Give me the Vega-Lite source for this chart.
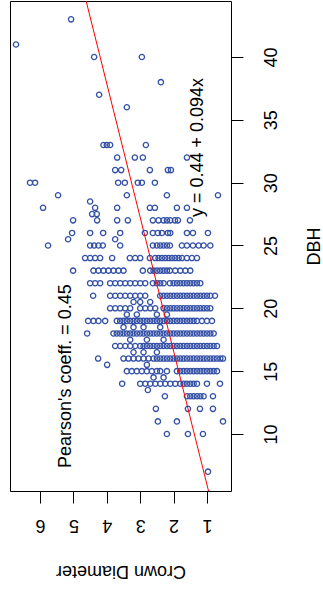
{
"$schema": "https://vega.github.io/schema/vega-lite/v6.json",
"width": 221, "height": 490,
"autosize": {"type": "none"},
"padding": {"left": 10, "top": 1, "right": 92, "bottom": 98},
"background": "white",
"config": {"view": {"stroke": "black", "strokeWidth": 1}, "font": "Liberation Sans"},
"datasets": {
"trees": [
{"dbh":43,"cd":5.07},{"dbh":41,"cd":6.72},{"dbh":40,"cd":4.38},{"dbh":40,"cd":2.95},{"dbh":38,"cd":2.38},{"dbh":37,"cd":4.23},{"dbh":36,"cd":3.4},
{"dbh":33,"cd":4.1},{"dbh":33,"cd":4.0},{"dbh":33,"cd":3.9},{"dbh":33,"cd":2.83},
{"dbh":32,"cd":3.69},{"dbh":32,"cd":3.16},{"dbh":32,"cd":2.92},{"dbh":32,"cd":1.6},
{"dbh":31,"cd":3.75},{"dbh":31,"cd":3.57},{"dbh":31,"cd":2.71},{"dbh":31,"cd":2.17},{"dbh":31,"cd":2.08},
{"dbh":30,"cd":6.3},{"dbh":30,"cd":6.15},{"dbh":30,"cd":3.66},{"dbh":30,"cd":3.46},{"dbh":30,"cd":3.07},{"dbh":30,"cd":2.95},{"dbh":30,"cd":2.56},
{"dbh":29,"cd":5.46},{"dbh":29,"cd":3.4},{"dbh":29,"cd":2.2},{"dbh":29,"cd":0.67},
{"dbh":28.5,"cd":4.5},
{"dbh":28,"cd":5.91},{"dbh":28,"cd":4.35},{"dbh":28,"cd":3.69},{"dbh":28,"cd":2.71},{"dbh":28,"cd":2.56},{"dbh":28,"cd":1.9},{"dbh":28,"cd":1.6},
{"dbh":27.5,"cd":4.44},{"dbh":27.5,"cd":4.3},
{"dbh":27,"cd":5.01},{"dbh":27,"cd":4.29},{"dbh":27,"cd":3.69},{"dbh":27,"cd":3.37},{"dbh":27,"cd":2.62},{"dbh":27,"cd":2.45},{"dbh":27,"cd":2.3},{"dbh":27,"cd":2.2},{"dbh":27,"cd":2.1},{"dbh":27,"cd":1.96},{"dbh":27,"cd":1.87},{"dbh":27,"cd":1.51},
{"dbh":26,"cd":5.04},{"dbh":26,"cd":4.5},{"dbh":26,"cd":4.11},{"dbh":26,"cd":3.6},{"dbh":26,"cd":2.86},{"dbh":26,"cd":2.62},{"dbh":26,"cd":2.47},{"dbh":26,"cd":2.35},{"dbh":26,"cd":2.17},{"dbh":26,"cd":2.1},{"dbh":26,"cd":1.6},{"dbh":26,"cd":1.42},{"dbh":26,"cd":0.97},
{"dbh":25.5,"cd":5.16},{"dbh":25.5,"cd":3.75},
{"dbh":25,"cd":5.76},{"dbh":25,"cd":4.5},{"dbh":25,"cd":4.38},{"dbh":25,"cd":4.25},{"dbh":25,"cd":4.12},{"dbh":25,"cd":3.6},{"dbh":25,"cd":2.62},{"dbh":25,"cd":2.5},{"dbh":25,"cd":2.4},{"dbh":25,"cd":2.3},{"dbh":25,"cd":2.2},{"dbh":25,"cd":2.11},{"dbh":25,"cd":1.75},{"dbh":25,"cd":1.6},{"dbh":25,"cd":1.42},{"dbh":25,"cd":1.25},{"dbh":25,"cd":1.1},{"dbh":25,"cd":0.9},
{"dbh":24,"cd":4.65},{"dbh":24,"cd":4.5},{"dbh":24,"cd":4.35},{"dbh":24,"cd":4.2},{"dbh":24,"cd":3.84},{"dbh":24,"cd":3.31},{"dbh":24,"cd":3.15},{"dbh":24,"cd":3.0},{"dbh":24,"cd":2.71},{"dbh":24,"cd":2.55},{"dbh":24,"cd":2.45},{"dbh":24,"cd":2.35},{"dbh":24,"cd":2.25},{"dbh":24,"cd":2.15},{"dbh":24,"cd":2.05},{"dbh":24,"cd":1.95},{"dbh":24,"cd":1.85},{"dbh":24,"cd":1.75},{"dbh":24,"cd":1.6},{"dbh":24,"cd":1.45},{"dbh":24,"cd":1.3},
{"dbh":23,"cd":5.01},{"dbh":23,"cd":4.4},{"dbh":23,"cd":4.25},{"dbh":23,"cd":4.1},{"dbh":23,"cd":3.95},{"dbh":23,"cd":3.8},{"dbh":23,"cd":3.65},{"dbh":23,"cd":3.5},{"dbh":23,"cd":2.92},{"dbh":23,"cd":2.7},{"dbh":23,"cd":2.6},{"dbh":23,"cd":2.5},{"dbh":23,"cd":2.4},{"dbh":23,"cd":2.3},{"dbh":23,"cd":2.2},{"dbh":23,"cd":2.11},{"dbh":23,"cd":1.95},{"dbh":23,"cd":1.8},{"dbh":23,"cd":1.65},{"dbh":23,"cd":1.5},
{"dbh":22,"cd":4.5},{"dbh":22,"cd":4.35},{"dbh":22,"cd":4.2},{"dbh":22,"cd":3.9},{"dbh":22,"cd":3.75},{"dbh":22,"cd":3.6},{"dbh":22,"cd":3.45},{"dbh":22,"cd":3.3},{"dbh":22,"cd":3.15},{"dbh":22,"cd":3.0},{"dbh":22,"cd":2.85},{"dbh":22,"cd":2.62},{"dbh":22,"cd":2.5},{"dbh":22,"cd":2.4},{"dbh":22,"cd":2.3},{"dbh":22,"cd":2.11},{"dbh":22,"cd":2.0},{"dbh":22,"cd":1.9},{"dbh":22,"cd":1.8},{"dbh":22,"cd":1.7},{"dbh":22,"cd":1.6},{"dbh":22,"cd":1.5},{"dbh":22,"cd":1.4},{"dbh":22,"cd":1.3},{"dbh":22,"cd":1.2},
{"dbh":21,"cd":4.41},{"dbh":21,"cd":3.9},{"dbh":21,"cd":3.75},{"dbh":21,"cd":3.6},{"dbh":21,"cd":3.45},{"dbh":21,"cd":3.3},{"dbh":21,"cd":3.15},{"dbh":21,"cd":3.0},{"dbh":21,"cd":2.85},{"dbh":21,"cd":2.4},{"dbh":21,"cd":2.3},{"dbh":21,"cd":2.2},{"dbh":21,"cd":2.1},{"dbh":21,"cd":2.0},{"dbh":21,"cd":1.9},{"dbh":21,"cd":1.8},{"dbh":21,"cd":1.7},{"dbh":21,"cd":1.6},{"dbh":21,"cd":1.5},{"dbh":21,"cd":1.4},{"dbh":21,"cd":1.3},{"dbh":21,"cd":1.2},{"dbh":21,"cd":1.1},{"dbh":21,"cd":1.0},{"dbh":21,"cd":0.9},{"dbh":21,"cd":0.76},
{"dbh":20.5,"cd":3.2},{"dbh":20.5,"cd":3.0},{"dbh":20.5,"cd":2.7},
{"dbh":20,"cd":3.9},{"dbh":20,"cd":3.75},{"dbh":20,"cd":3.6},{"dbh":20,"cd":3.45},{"dbh":20,"cd":3.3},{"dbh":20,"cd":3.0},{"dbh":20,"cd":2.85},{"dbh":20,"cd":2.7},{"dbh":20,"cd":2.55},{"dbh":20,"cd":2.3},{"dbh":20,"cd":2.2},{"dbh":20,"cd":2.1},{"dbh":20,"cd":2.0},{"dbh":20,"cd":1.9},{"dbh":20,"cd":1.8},{"dbh":20,"cd":1.7},{"dbh":20,"cd":1.6},{"dbh":20,"cd":1.5},{"dbh":20,"cd":1.4},{"dbh":20,"cd":1.3},{"dbh":20,"cd":1.2},{"dbh":20,"cd":1.1},{"dbh":20,"cd":1.0},{"dbh":20,"cd":0.9},
{"dbh":19.5,"cd":3.4},{"dbh":19.5,"cd":3.1},{"dbh":19.5,"cd":2.5},{"dbh":19.5,"cd":2.2},
{"dbh":19,"cd":4.56},{"dbh":19,"cd":4.4},{"dbh":19,"cd":4.25},{"dbh":19,"cd":4.05},{"dbh":19,"cd":3.7},{"dbh":19,"cd":3.6},{"dbh":19,"cd":3.5},{"dbh":19,"cd":3.4},{"dbh":19,"cd":3.3},{"dbh":19,"cd":3.2},{"dbh":19,"cd":3.1},{"dbh":19,"cd":3.0},{"dbh":19,"cd":2.9},{"dbh":19,"cd":2.8},{"dbh":19,"cd":2.7},{"dbh":19,"cd":2.6},{"dbh":19,"cd":2.5},{"dbh":19,"cd":2.4},{"dbh":19,"cd":2.3},{"dbh":19,"cd":2.2},{"dbh":19,"cd":2.1},{"dbh":19,"cd":2.0},{"dbh":19,"cd":1.9},{"dbh":19,"cd":1.8},{"dbh":19,"cd":1.7},{"dbh":19,"cd":1.6},{"dbh":19,"cd":1.5},{"dbh":19,"cd":1.4},{"dbh":19,"cd":1.3},{"dbh":19,"cd":1.15},{"dbh":19,"cd":1.0},{"dbh":19,"cd":0.85},
{"dbh":18.5,"cd":3.5},{"dbh":18.5,"cd":3.2},{"dbh":18.5,"cd":2.9},{"dbh":18.5,"cd":2.4},
{"dbh":18,"cd":4.59},{"dbh":18,"cd":3.8},{"dbh":18,"cd":3.7},{"dbh":18,"cd":3.6},{"dbh":18,"cd":3.5},{"dbh":18,"cd":3.4},{"dbh":18,"cd":3.3},{"dbh":18,"cd":3.2},{"dbh":18,"cd":3.1},{"dbh":18,"cd":3.0},{"dbh":18,"cd":2.9},{"dbh":18,"cd":2.8},{"dbh":18,"cd":2.7},{"dbh":18,"cd":2.6},{"dbh":18,"cd":2.5},{"dbh":18,"cd":2.4},{"dbh":18,"cd":2.3},{"dbh":18,"cd":2.2},{"dbh":18,"cd":2.1},{"dbh":18,"cd":2.0},{"dbh":18,"cd":1.9},{"dbh":18,"cd":1.8},{"dbh":18,"cd":1.7},{"dbh":18,"cd":1.6},{"dbh":18,"cd":1.5},{"dbh":18,"cd":1.4},{"dbh":18,"cd":1.3},{"dbh":18,"cd":1.2},{"dbh":18,"cd":1.1},{"dbh":18,"cd":1.0},{"dbh":18,"cd":0.9},{"dbh":18,"cd":0.8},
{"dbh":17.5,"cd":3.3},{"dbh":17.5,"cd":2.8},{"dbh":17.5,"cd":2.3},
{"dbh":17,"cd":3.75},{"dbh":17,"cd":3.6},{"dbh":17,"cd":3.45},{"dbh":17,"cd":3.3},{"dbh":17,"cd":3.15},{"dbh":17,"cd":3.0},{"dbh":17,"cd":2.9},{"dbh":17,"cd":2.8},{"dbh":17,"cd":2.7},{"dbh":17,"cd":2.6},{"dbh":17,"cd":2.5},{"dbh":17,"cd":2.4},{"dbh":17,"cd":2.3},{"dbh":17,"cd":2.2},{"dbh":17,"cd":2.1},{"dbh":17,"cd":2.0},{"dbh":17,"cd":1.9},{"dbh":17,"cd":1.8},{"dbh":17,"cd":1.7},{"dbh":17,"cd":1.6},{"dbh":17,"cd":1.5},{"dbh":17,"cd":1.4},{"dbh":17,"cd":1.3},{"dbh":17,"cd":1.2},{"dbh":17,"cd":1.1},{"dbh":17,"cd":1.0},{"dbh":17,"cd":0.9},{"dbh":17,"cd":0.8},{"dbh":17,"cd":0.7},
{"dbh":16.5,"cd":3.2},{"dbh":16.5,"cd":2.9},{"dbh":16.5,"cd":2.5},
{"dbh":16,"cd":4.26},{"dbh":16,"cd":3.5},{"dbh":16,"cd":3.35},{"dbh":16,"cd":3.2},{"dbh":16,"cd":3.05},{"dbh":16,"cd":2.9},{"dbh":16,"cd":2.75},{"dbh":16,"cd":2.6},{"dbh":16,"cd":2.5},{"dbh":16,"cd":2.4},{"dbh":16,"cd":2.3},{"dbh":16,"cd":2.2},{"dbh":16,"cd":2.1},{"dbh":16,"cd":2.0},{"dbh":16,"cd":1.9},{"dbh":16,"cd":1.8},{"dbh":16,"cd":1.7},{"dbh":16,"cd":1.6},{"dbh":16,"cd":1.5},{"dbh":16,"cd":1.4},{"dbh":16,"cd":1.3},{"dbh":16,"cd":1.2},{"dbh":16,"cd":1.1},{"dbh":16,"cd":1.0},{"dbh":16,"cd":0.9},{"dbh":16,"cd":0.8},{"dbh":16,"cd":0.7},{"dbh":16,"cd":0.6},{"dbh":16,"cd":0.52},
{"dbh":15.5,"cd":3.99},{"dbh":15.5,"cd":2.8},
{"dbh":15,"cd":3.4},{"dbh":15,"cd":3.25},{"dbh":15,"cd":3.1},{"dbh":15,"cd":2.95},{"dbh":15,"cd":2.8},{"dbh":15,"cd":2.65},{"dbh":15,"cd":2.5},{"dbh":15,"cd":2.4},{"dbh":15,"cd":2.2},{"dbh":15,"cd":1.9},{"dbh":15,"cd":1.8},{"dbh":15,"cd":1.7},{"dbh":15,"cd":1.6},{"dbh":15,"cd":1.5},{"dbh":15,"cd":1.4},{"dbh":15,"cd":1.3},{"dbh":15,"cd":1.2},{"dbh":15,"cd":1.1},{"dbh":15,"cd":1.0},{"dbh":15,"cd":0.9},{"dbh":15,"cd":0.8},{"dbh":15,"cd":0.7},
{"dbh":14.5,"cd":2.6},{"dbh":14.5,"cd":2.3},
{"dbh":14,"cd":3.54},{"dbh":14,"cd":3.0},{"dbh":14,"cd":2.85},{"dbh":14,"cd":2.7},{"dbh":14,"cd":2.55},{"dbh":14,"cd":2.4},{"dbh":14,"cd":2.25},{"dbh":14,"cd":2.1},{"dbh":14,"cd":1.95},{"dbh":14,"cd":1.8},{"dbh":14,"cd":1.7},{"dbh":14,"cd":1.6},{"dbh":14,"cd":1.5},{"dbh":14,"cd":1.4},{"dbh":14,"cd":1.3},{"dbh":14,"cd":1.0},{"dbh":14,"cd":0.61},
{"dbh":13.5,"cd":2.77},
{"dbh":13,"cd":2.26},{"dbh":13,"cd":1.6},{"dbh":13,"cd":1.5},{"dbh":13,"cd":1.4},{"dbh":13,"cd":1.3},{"dbh":13,"cd":1.2},{"dbh":13,"cd":1.1},{"dbh":13,"cd":0.82},
{"dbh":12,"cd":2.53},{"dbh":12,"cd":1.57},{"dbh":12,"cd":1.21},{"dbh":12,"cd":0.82},
{"dbh":11,"cd":2.47},{"dbh":11,"cd":1.9},{"dbh":11,"cd":0.52},
{"dbh":10,"cd":2.2},{"dbh":10,"cd":1.57},{"dbh":10,"cd":1.12},
{"dbh":7,"cd":0.97}
],
"fit": [{"dbh":5.46,"cd":0.953},{"dbh":44.46,"cd":4.619}],
"notes": [{"dbh":14.6,"cd":5.22,"label":"Pearson's coeff. = 0.45"},{"dbh":32.8,"cd":1.27,"label":"y = 0.44 + 0.094x"}]
},
"layer": [
{
"data": {"name": "trees"},
"mark": {"type": "point", "shape": "circle", "filled": false, "color": "#3350a6", "size": 28, "strokeWidth": 1.3, "opacity": 1},
"encoding": {
"x": {"field": "cd", "type": "quantitative",
"scale": {"domain": [0.28, 6.9], "reverse": true, "nice": false, "zero": false},
"axis": {"orient": "bottom", "values": [1,2,3,4,5,6], "domain": false, "grid": false, "tickSize": 12, "tickColor": "black", "tickWidth": 1,
"labelAngle": 180, "labelAlign": "center", "labelBaseline": "alphabetic", "labelPadding": 16, "labelFontSize": 18, "labelColor": "black", "labelFont": "Liberation Sans",
"title": "Crown Diameter", "titleAngle": 180, "titleBaseline": "alphabetic", "titlePadding": 32, "titleFontSize": 18, "titleFontWeight": "normal", "titleColor": "black", "titleFont": "Liberation Sans"}},
"y": {"field": "dbh", "type": "quantitative",
"scale": {"domain": [5.46, 44.46], "nice": false, "zero": false},
"axis": {"orient": "right", "values": [10,15,20,25,30,35,40], "domain": false, "grid": false, "tickSize": 12, "tickColor": "black", "tickWidth": 1,
"labelAngle": 270, "labelAlign": "center", "labelBaseline": "alphabetic", "labelPadding": 33, "labelFontSize": 18, "labelColor": "black", "labelFont": "Liberation Sans",
"title": "DBH", "titleAngle": 270, "titleBaseline": "alphabetic", "titlePadding": 39, "titleFontSize": 18, "titleFontWeight": "normal", "titleColor": "black", "titleFont": "Liberation Sans"}}
}
},
{
"data": {"name": "fit"},
"mark": {"type": "line", "color": "#ff0000", "strokeWidth": 1, "clip": true},
"encoding": {
"x": {"field": "cd", "type": "quantitative"},
"y": {"field": "dbh", "type": "quantitative"}
}
},
{
"data": {"name": "notes"},
"mark": {"type": "text", "angle": 270, "fontSize": 18, "font": "Liberation Sans", "color": "black", "align": "center", "baseline": "middle"},
"encoding": {
"x": {"field": "cd", "type": "quantitative"},
"y": {"field": "dbh", "type": "quantitative"},
"text": {"field": "label", "type": "nominal"}
}
}
]
}
